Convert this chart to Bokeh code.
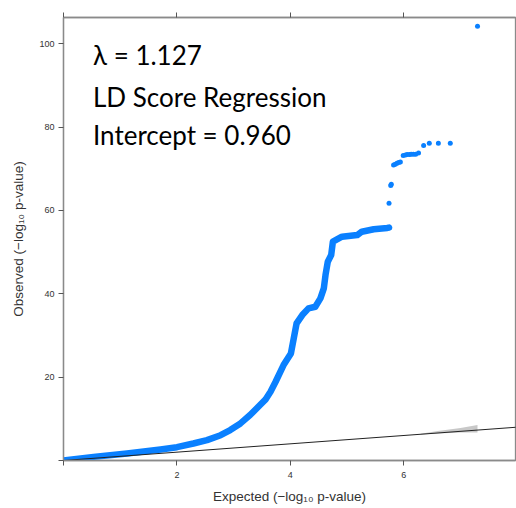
from bokeh.plotting import figure
from bokeh.models import Range1d, LinearAxis, FixedTicker, Label
from bokeh.embed import file_html
from bokeh.resources import INLINE

# Dense part of the QQ curve (expected, observed -log10 p)
dense_exp = [0.0, 0.53, 1.12, 1.71, 2.0, 2.29, 2.53, 2.77, 2.94, 3.12, 3.29, 3.47,
             3.56, 3.65, 3.74, 3.88, 4.01, 4.06, 4.11, 4.21, 4.32, 4.44, 4.53, 4.59,
             4.62, 4.66, 4.72, 4.75, 4.91, 5.18, 5.26, 5.47, 5.71, 5.74]
dense_obs = [0.0, 0.87, 1.68, 2.64, 3.2, 4.08, 4.9, 6.07, 7.3, 8.9, 10.9, 13.4,
             14.6, 16.5, 18.9, 22.9, 25.7, 29.3, 32.9, 34.9, 36.5, 36.9, 38.9, 41.3,
             44.5, 47.7, 49.3, 52.5, 53.7, 54.1, 54.9, 55.5, 55.8, 55.9]

# Sparse top hits
sparse_exp = [5.74, 5.77, 5.78, 5.82, 5.85, 5.88, 5.91, 5.94, 5.99, 6.03, 6.06,
              6.10, 6.13, 6.17, 6.21, 6.26, 6.35, 6.45, 6.61, 6.82, 7.30]
sparse_obs = [61.7, 66.0, 66.3, 70.9, 71.1, 71.3, 71.5, 71.6, 73.2, 73.3, 73.4,
              73.4, 73.5, 73.5, 73.5, 73.8, 75.6, 76.1, 76.1, 76.1, 104.2]

# Confidence band near the top of the expected range
band_exp = [6.3, 6.6, 7.0, 7.3]
band_lo = [6.25, 6.45, 6.7, 6.7]
band_hi = [6.4, 7.1, 7.8, 8.5]

# Reference line y = x
ref_x = [0.0, 8.0]
ref_y = [0.0, 8.0]

x_ticks = [0, 2, 4, 6, 8]
y_ticks = [0, 20, 40, 60, 80, 100]

annot_lines = ["λ = 1.127", "LD Score Regression", "Intercept = 0.960"]

BLUE = "#0a80ff"
AXC = "#8a8a8a"

p = figure(width=516, height=508, output_backend="svg", toolbar_location=None,
           x_range=Range1d(0, 7.97), y_range=Range1d(0, 106.3),
           min_border_left=63, min_border_right=1, min_border_top=17,
           min_border_bottom=48, x_axis_location=None, y_axis_location=None)
p.grid.visible = False
p.outline_line_color = AXC
p.outline_line_width = 1.3
p.background_fill_color = "white"
p.border_fill_color = "white"

def style_axis(ax, labels=True):
    ax.axis_line_color = AXC
    ax.axis_line_width = 1.3
    ax.major_tick_line_color = "#555555"
    ax.major_tick_out = 5
    ax.major_tick_in = 0
    ax.minor_tick_line_color = None
    ax.major_label_text_font = "Liberation Sans"
    ax.major_label_text_font_size = "9px"
    ax.major_label_text_color = "#333333"
    ax.axis_label_text_font = "Liberation Sans"
    ax.axis_label_text_font_size = "13.5px"
    ax.axis_label_text_font_style = "normal"
    ax.axis_label_text_color = "#333333"
    if not labels:
        ax.major_label_text_font_size = "0px"

xb = LinearAxis(ticker=FixedTicker(ticks=x_ticks), axis_label="Expected (−log₁₀ p-value)")
style_axis(xb)
xb.major_label_overrides = {0: "", 8: ""}
xb.major_label_standoff = 6
xb.axis_label_standoff = 8
p.add_layout(xb, "below")

yl = LinearAxis(ticker=FixedTicker(ticks=y_ticks), axis_label="Observed (−log₁₀ p-value)")
style_axis(yl)
yl.major_label_overrides = {0: ""}
yl.major_label_orientation = "horizontal"
yl.major_label_standoff = 4
yl.axis_label_standoff = 10
p.add_layout(yl, "left")

xt = LinearAxis(ticker=FixedTicker(ticks=x_ticks))
style_axis(xt, labels=False)
xt.major_label_overrides = {t: "" for t in x_ticks}
p.add_layout(xt, "above")

p.varea(x=band_exp, y1=band_lo, y2=band_hi, fill_color="#c8c8c8", fill_alpha=1.0)

p.line(dense_exp, dense_obs, line_color=BLUE, line_width=6.5, line_cap="round", line_join="round")
p.scatter(sparse_exp, sparse_obs, size=5, fill_color=BLUE, line_color=None)

p.line(ref_x, ref_y, line_color="#222222", line_width=1)

ys = [97.3, 87.2, 78.1]
for t, yv in zip(annot_lines, ys):
    p.add_layout(Label(x=0.52, y=yv, text=t, text_font="Lato", text_font_size="26px",
                       text_color="#000000", text_baseline="alphabetic"))

open("out.html", "w").write(file_html(p, INLINE))
